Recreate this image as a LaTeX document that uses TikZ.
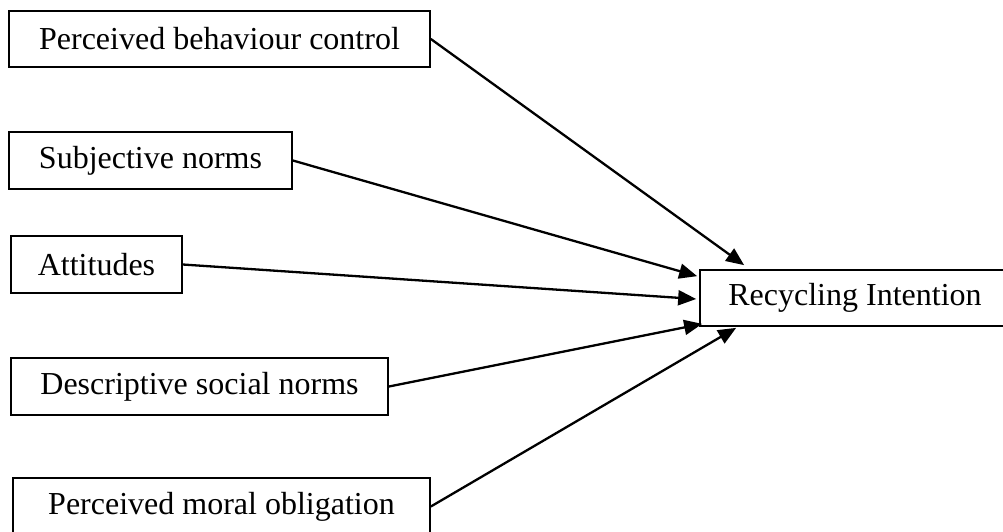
\documentclass[tikz,border=0pt]{standalone}
\usepackage{fontspec}
\setmainfont{Liberation Serif}
\usetikzlibrary{arrows.meta,calc}
\begin{document}
\begin{tikzpicture}[x=1pt,y=-1pt,
  box/.style={draw, line width=1.7pt, inner sep=0pt, font=\fontsize{32}{38}\selectfont, anchor=center},
  conn/.style={line width=2.3pt, -{Triangle[length=18pt,width=15pt]}}]
\clip (0,0) rectangle (1003,531);
\fill[white] (0,0) rectangle (1003,531);
\node[box, minimum width=421pt, minimum height=56pt] (pbc) at (219.5,39) {Perceived behaviour control};
\node[box, minimum width=283pt, minimum height=57pt] (sn) at (150.5,160.5) {Subjective norms};
\node[box, minimum width=171pt, minimum height=57pt] (att) at (96.5,264.5) {Attitudes};
\node[box, minimum width=377pt, minimum height=57pt] (dsn) at (199.5,386.5) {Descriptive social norms};
\node[box, minimum width=417pt, minimum height=57pt] (pmo) at (221.5,506.5) {Perceived moral obligation};
\node[box, minimum width=310pt, minimum height=56pt] (ri) at (855,298) {Recycling Intention};
\draw[conn] (pbc.east) -- ($(ri.north west)+(45,-4)$);
\draw[conn] (sn.east) -- ($(ri.north west)+(-2,7)$);
\draw[conn] (att.east) -- ($(ri.west)+(-3,1)$);
\draw[conn] (dsn.east) -- ($(ri.south west)+(3,-3)$);
\draw[conn] (pmo.east) -- ($(ri.south west)+(37,1)$);
\end{tikzpicture}
\end{document}
